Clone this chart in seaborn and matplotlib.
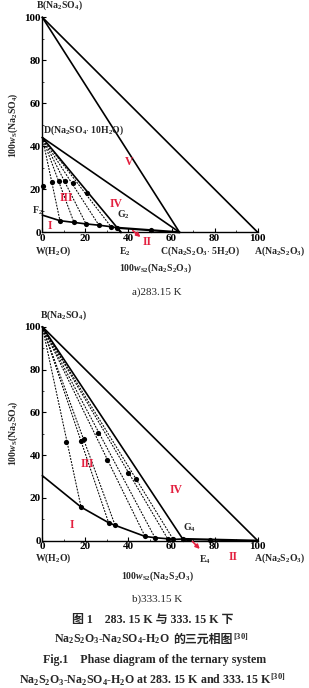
import numpy as np
import pandas as pd
import matplotlib
matplotlib.use("Agg")
import matplotlib.pyplot as plt
import seaborn as sns
from matplotlib.ticker import MultipleLocator

sns.set_theme(style="ticks")
plt.rcParams['font.family'] = ['Liberation Serif', 'Noto Sans CJK SC']
plt.rcParams['font.weight'] = 'bold'
plt.rcParams['mathtext.fontset'] = 'custom'
plt.rcParams['mathtext.rm'] = 'Liberation Serif:bold'
plt.rcParams['mathtext.it'] = 'Liberation Serif:bold:italic'
plt.rcParams['mathtext.bf'] = 'Liberation Serif:bold'

# ---------------- data: 283.15 K ----------------
a_vertex_B = (0, 100)
a_vertex_A = (100, 0)
a_vertex_D = (0, 44.1)      # Na2SO4·10H2O
a_vertex_C = (63.7, 0)      # Na2S2O3·5H2O
a_liq_x = [0, 8.2, 14.7, 20.3, 26.3, 31.9, 34.8]
a_liq_y = [8.0, 5.4, 4.6, 3.9, 3.3, 2.6, 2.1]
a_G = (34.8, 2.1)
a_E = (36.5, 0)
a_tie_liq_x = [8.2, 14.7, 20.3, 26.3, 31.9]
a_tie_liq_y = [5.4, 4.6, 3.9, 3.3, 2.6]
a_wet_x = [0.4, 4.4, 7.6, 10.7, 14.3, 20.9]
a_wet_y = [21.7, 23.3, 23.7, 23.7, 22.9, 18.1]
a_extra_x = [50.3]
a_extra_y = [1.1]

# ---------------- data: 333.15 K ----------------
b_vertex_B = (0, 100)
b_vertex_A = (100, 0)
b_liq_x = [0, 18.0, 30.8, 33.8, 47.7, 52.3, 58.2, 60.8, 65.2]
b_liq_y = [30.4, 15.7, 8.4, 7.2, 2.0, 1.4, 0.9, 0.6, 0.8]
b_G = (65.2, 0.8)
b_E = (69.0, 0)
b_tie_liq_x = [18.0, 30.8, 33.8, 47.7, 52.3, 58.2, 60.8]
b_tie_liq_y = [15.7, 8.4, 7.2, 2.0, 1.4, 0.9, 0.6]
b_wet_x = [11.0, 18.0, 19.2, 26.0, 30.2, 39.9, 43.5]
b_wet_y = [46.3, 46.7, 47.4, 50.5, 37.6, 31.5, 29.0]
b_extra_x = [77.9]
b_extra_y = [0.3]

ticks = [0, 20, 40, 60, 80, 100]
RED = '#e3203f'
LFS = 7

W, H = 309, 688
fig = plt.figure(figsize=(W / 100, H / 100), dpi=100)
fig.patch.set_facecolor('white')

def px_axes(l, t, r, b):
    return fig.add_axes([l / W, 1 - b / H, (r - l) / W, (b - t) / H])

ax1 = px_axes(42.3, 17.3, 257.7, 232.3)
ax2 = px_axes(42.3, 326.7, 257.7, 540.7)

def style(ax):
    ax.set_xlim(0, 100)
    ax.set_ylim(0, 100)
    ax.set_facecolor('white')
    for s in ['top', 'right']:
        ax.spines[s].set_visible(False)
    for s in ['left', 'bottom']:
        ax.spines[s].set_linewidth(1.0)
        ax.spines[s].set_color('black')
    ax.set_xticks(ticks)
    ax.set_yticks(ticks)
    ax.xaxis.set_minor_locator(MultipleLocator(10))
    ax.yaxis.set_minor_locator(MultipleLocator(10))
    ax.tick_params(which='major', direction='in', length=3, width=0.8,
                   labelsize=8, pad=1, colors='black')
    ax.tick_params(which='minor', direction='in', length=1.5, width=0.6)
    for lab in ax.get_xticklabels() + ax.get_yticklabels():
        lab.set_fontweight('bold')
    ax.set_xlabel('')
    ax.set_ylabel('')
    ax.grid(False)

def seg(ax, p, q, **kw):
    df = pd.DataFrame({'x': [p[0], q[0]], 'y': [p[1], q[1]]})
    sns.lineplot(data=df, x='x', y='y', ax=ax, sort=False, estimator=None,
                 color='black', clip_on=False, **kw)

def txt(ax, x, y, s, **kw):
    kw.setdefault('fontsize', LFS)
    kw.setdefault('fontweight', 'bold')
    ax.text(x, y, s, clip_on=False, **kw)

dash = (0, (1.8, 1.2))

def dots(ax, xs, ys):
    sns.scatterplot(x=xs, y=ys, ax=ax, color='black', s=14,
                    edgecolor='black', linewidth=0, clip_on=False, zorder=5)

# ---------- panel a ----------
for lx, ly in zip(a_tie_liq_x, a_tie_liq_y):
    seg(ax1, a_vertex_D, (lx, ly), lw=0.75, linestyle=dash)
seg(ax1, a_vertex_B, a_vertex_A, lw=1.2)
seg(ax1, a_vertex_B, a_vertex_C, lw=1.2)
seg(ax1, a_vertex_D, a_vertex_C, lw=1.2)
seg(ax1, a_vertex_D, a_G, lw=1.2)
seg(ax1, a_G, a_vertex_C, lw=1.6)
seg(ax1, a_G, a_E, lw=1.6)
dfa = pd.DataFrame({'x': a_liq_x, 'y': a_liq_y})
sns.lineplot(data=dfa, x='x', y='y', ax=ax1, sort=False, estimator=None,
             color='black', lw=1.2, clip_on=False)
dots(ax1, a_liq_x[1:], a_liq_y[1:])
dots(ax1, a_wet_x, a_wet_y)
dots(ax1, a_extra_x, a_extra_y)
style(ax1)

txt(ax1, -3.0, 105.5, r'B(Na$_2$SO$_4$)', va='center', ha='left')
txt(ax1, 0.3, 47.6, r'D(Na$_2$SO$_4$$\cdot$ 10H$_2$O)', va='center', ha='left')
txt(ax1, -5.0, 10.0, r'F$_2$', va='center', ha='left')
txt(ax1, 34.8, 8.0, r'G$_2$', va='center', ha='left')
txt(ax1, -3.4, -8.6, r'W(H$_2$O)', va='center', ha='left')
txt(ax1, 35.8, -9.0, r'E$_2$', va='center', ha='left')
txt(ax1, 54.6, -8.6, r'C(Na$_2$S$_2$O$_3$$\cdot$ 5H$_2$O)', va='center', ha='left')
txt(ax1, 98.5, -8.6, r'A(Na$_2$S$_2$O$_3$)', va='center', ha='left')
txt(ax1, 52.6, -16.5, r'100$w_{\rm S2}$(Na$_2$S$_2$O$_3$)', va='center', ha='center')
txt(ax1, -13.6, 50, r'100$w_{\rm S}$(Na$_2$SO$_4$)', va='center', ha='center', rotation=90)
for s, x, y in [('I', 3.6, 2.8), ('III', 11.3, 16.0), ('IV', 34.4, 13.2), ('V', 40.4, 32.8), ('II', 48.6, -4.4)]:
    txt(ax1, x, y, s, color=RED, va='center', ha='center', fontsize=8.5)
ax1.annotate('', xy=(46.6, -3.0), xytext=(41.0, 1.6),
             arrowprops=dict(arrowstyle='-|>', color=RED, lw=1.2,
                             mutation_scale=6), annotation_clip=False)

# ---------- panel b ----------
for lx, ly in zip(b_tie_liq_x, b_tie_liq_y):
    seg(ax2, b_vertex_B, (lx, ly), lw=0.75, linestyle=dash)
seg(ax2, b_vertex_B, b_vertex_A, lw=1.2)
seg(ax2, b_vertex_B, b_G, lw=1.2)
seg(ax2, b_G, b_vertex_A, lw=1.6)
seg(ax2, b_G, b_E, lw=1.6)
dfb = pd.DataFrame({'x': b_liq_x, 'y': b_liq_y})
sns.lineplot(data=dfb, x='x', y='y', ax=ax2, sort=False, estimator=None,
             color='black', lw=1.2, clip_on=False)
dots(ax2, b_liq_x[1:], b_liq_y[1:])
dots(ax2, b_wet_x, b_wet_y)
dots(ax2, b_extra_x, b_extra_y)
style(ax2)

txt(ax2, -1.0, 105.5, r'B(Na$_2$SO$_4$)', va='center', ha='left')
txt(ax2, 65.2, 6.1, r'G$_4$', va='center', ha='left')
txt(ax2, -3.4, -8.2, r'W(H$_2$O)', va='center', ha='left')
txt(ax2, 72.9, -8.7, r'E$_4$', va='center', ha='left')
txt(ax2, 98.5, -8.2, r'A(Na$_2$S$_2$O$_3$)', va='center', ha='left')
txt(ax2, 53.6, -16.8, r'100$w_{\rm S2}$(Na$_2$S$_2$O$_3$)', va='center', ha='center')
txt(ax2, -13.6, 50, r'100$w_{\rm S}$(Na$_2$SO$_4$)', va='center', ha='center', rotation=90)
for s, x, y in [('I', 13.9, 7.2), ('III', 21.0, 35.7), ('IV', 61.9, 23.7), ('II', 88.7, -7.6)]:
    txt(ax2, x, y, s, color=RED, va='center', ha='center', fontsize=8.5)
ax2.annotate('', xy=(74.0, -4.8), xytext=(68.8, 0.6),
             arrowprops=dict(arrowstyle='-|>', color=RED, lw=1.2,
                             mutation_scale=6), annotation_clip=False)

# ---------- captions ----------
CFS = 8.6
def ftxt(xp, yp, s, **kw):
    kw.setdefault('fontsize', CFS)
    kw.setdefault('fontweight', 'normal')
    kw.setdefault('ha', 'center')
    return fig.text(xp / W, 1 - yp / H, s, va='center', **kw)

ftxt(156.5, 292, 'a)283.15 K', fontsize=8)
ftxt(156.8, 599, 'b)333.15 K', fontsize=8)
ftxt(153, 620, '图 1    283. 15 K 与 333. 15 K 下', fontweight='bold')
ftxt(154.3, 660, 'Fig.1    Phase diagram of the ternary system', fontweight='bold')
ftxt(152.3, 679.5, r'Na$_2$S$_2$O$_3$-Na$_2$SO$_4$-H$_2$O at 283. 15 K and 333. 15 K$^{[30]}$', fontweight='bold')

# line 2: formula + CJK text + superscript, placed side by side
parts = [
    (r'Na$_2$S$_2$O$_3$-Na$_2$SO$_4$-H$_2$O', dict(fontweight='bold'), 0.0),
    ('的三元相图', dict(fontweight='bold', family=['Noto Sans CJK SC']), 3.0),
    (r'$^{[30]}$', dict(fontweight='bold'), 0.5),
]
items = [ftxt(0, 639.5, s, ha='left', **kw) for s, kw, _ in parts]
fig.canvas.draw()
r = fig.canvas.get_renderer()
widths = [t.get_window_extent(r).width for t in items]
total = sum(widths) + sum(g for _, _, g in parts)
x = 151 - total / 2
for t, w, (_, _, g) in zip(items, widths, parts):
    x += g
    t.set_x(x / W)
    x += w

fig.savefig('out.png', dpi=100, facecolor='white')
